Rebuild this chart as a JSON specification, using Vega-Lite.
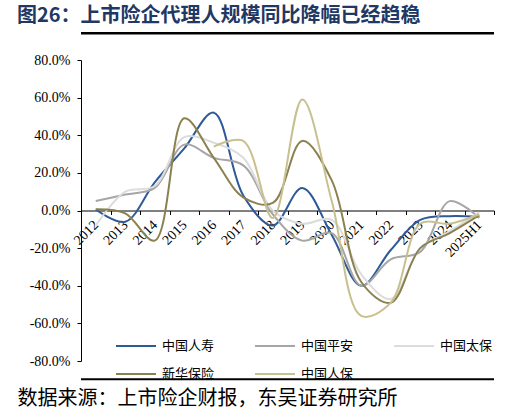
{
  "$schema": "https://vega.github.io/schema/vega-lite/v6.json",
  "width": 413,
  "height": 301,
  "autosize": {"type": "none"},
  "padding": {"left": 81, "top": 60, "right": 15, "bottom": 52},
  "background": "white",
  "config": {
    "view": {"stroke": null},
    "axisY": {
      "labelOverlap": false,
      "domainColor": "#000000",
      "tickColor": "#000000",
      "tickSize": 4,
      "labelFont": "Liberation Serif",
      "labelFontSize": 14,
      "labelColor": "#000000",
      "labelPadding": 7,
      "grid": false
    }
  },
  "title": {
    "text": "图26：上市险企代理人规模同比降幅已经趋稳",
    "anchor": "start",
    "frame": "group",
    "dx": -64,
    "dy": 21,
    "offset": 11,
    "baseline": "alphabetic",
    "font": "Noto Sans CJK SC",
    "fontSize": 20,
    "fontWeight": "bold",
    "color": "#1F3864"
  },
  "datasets": {
    "agents": [
      {"year": "2012", "company": "中国人寿", "value": 0.005},
      {"year": "2013", "company": "中国人寿", "value": -0.06},
      {"year": "2014", "company": "中国人寿", "value": 0.15},
      {"year": "2015", "company": "中国人寿", "value": 0.33},
      {"year": "2016", "company": "中国人寿", "value": 0.52},
      {"year": "2017", "company": "中国人寿", "value": 0.08},
      {"year": "2018", "company": "中国人寿", "value": -0.08},
      {"year": "2019", "company": "中国人寿", "value": 0.12},
      {"year": "2020", "company": "中国人寿", "value": -0.13},
      {"year": "2021", "company": "中国人寿", "value": -0.40},
      {"year": "2022", "company": "中国人寿", "value": -0.21},
      {"year": "2023", "company": "中国人寿", "value": -0.05},
      {"year": "2024", "company": "中国人寿", "value": -0.03},
      {"year": "2025H1", "company": "中国人寿", "value": -0.035},
      {"year": "2012", "company": "中国平安", "value": 0.05},
      {"year": "2013", "company": "中国平安", "value": 0.085},
      {"year": "2014", "company": "中国平安", "value": 0.12},
      {"year": "2015", "company": "中国平安", "value": 0.35},
      {"year": "2016", "company": "中国平安", "value": 0.28},
      {"year": "2017", "company": "中国平安", "value": 0.24},
      {"year": "2018", "company": "中国平安", "value": -0.02},
      {"year": "2019", "company": "中国平安", "value": -0.16},
      {"year": "2020", "company": "中国平安", "value": -0.12},
      {"year": "2021", "company": "中国平安", "value": -0.40},
      {"year": "2022", "company": "中国平安", "value": -0.26},
      {"year": "2023", "company": "中国平安", "value": -0.22},
      {"year": "2024", "company": "中国平安", "value": 0.05},
      {"year": "2025H1", "company": "中国平安", "value": -0.04},
      {"year": "2012", "company": "中国太保", "value": -0.08},
      {"year": "2013", "company": "中国太保", "value": 0.10},
      {"year": "2014", "company": "中国太保", "value": 0.13},
      {"year": "2015", "company": "中国太保", "value": 0.39},
      {"year": "2016", "company": "中国太保", "value": 0.36},
      {"year": "2017", "company": "中国太保", "value": 0.28},
      {"year": "2018", "company": "中国太保", "value": 0.0},
      {"year": "2019", "company": "中国太保", "value": -0.07},
      {"year": "2020", "company": "中国太保", "value": -0.05},
      {"year": "2021", "company": "中国太保", "value": -0.34},
      {"year": "2022", "company": "中国太保", "value": -0.47},
      {"year": "2023", "company": "中国太保", "value": -0.20},
      {"year": "2024", "company": "中国太保", "value": -0.11},
      {"year": "2025H1", "company": "中国太保", "value": -0.01},
      {"year": "2012", "company": "新华保险", "value": 0.007},
      {"year": "2013", "company": "新华保险", "value": -0.015},
      {"year": "2014", "company": "新华保险", "value": -0.16},
      {"year": "2015", "company": "新华保险", "value": 0.49},
      {"year": "2016", "company": "新华保险", "value": 0.28},
      {"year": "2017", "company": "新华保险", "value": 0.07},
      {"year": "2018", "company": "新华保险", "value": 0.04},
      {"year": "2019", "company": "新华保险", "value": 0.37},
      {"year": "2020", "company": "新华保险", "value": 0.16},
      {"year": "2021", "company": "新华保险", "value": -0.38},
      {"year": "2022", "company": "新华保险", "value": -0.49},
      {"year": "2023", "company": "新华保险", "value": -0.20},
      {"year": "2024", "company": "新华保险", "value": -0.12},
      {"year": "2025H1", "company": "新华保险", "value": -0.025},
      {"year": "2016", "company": "中国人保", "value": 0.34},
      {"year": "2017", "company": "中国人保", "value": 0.37},
      {"year": "2018", "company": "中国人保", "value": -0.04},
      {"year": "2019", "company": "中国人保", "value": 0.59},
      {"year": "2020", "company": "中国人保", "value": 0.05},
      {"year": "2021", "company": "中国人保", "value": -0.56},
      {"year": "2022", "company": "中国人保", "value": -0.49},
      {"year": "2023", "company": "中国人保", "value": -0.07},
      {"year": "2024", "company": "中国人保", "value": -0.07},
      {"year": "2025H1", "company": "中国人保", "value": -0.02}
    ]
  },
  "layer": [
    {
      "data": {"name": "agents"},
      "mark": {"type": "line", "interpolate": "catmull-rom", "strokeWidth": 2},
      "encoding": {
        "x": {
          "field": "year",
          "type": "ordinal",
          "sort": null,
          "bandPosition": 0.5,
          "scale": {"type": "band", "paddingInner": 0, "paddingOuter": 0},
          "axis": {
            "title": "数据来源：上市险企财报，东吴证券研究所",
            "titleX": -64,
            "titleY": 194,
            "titleAlign": "left",
            "titleAnchor": "start",
            "titleBaseline": "alphabetic",
            "titleFont": "Noto Sans CJK SC",
            "titleFontSize": 20,
            "titleFontWeight": "normal",
            "titleColor": "#000000",
            "offset": -150.5,
            "domainColor": "#000000",
            "tickColor": "#000000",
            "tickSize": 4,
            "tickBand": "extent",
            "labelAngle": -45,
            "labelAlign": "right",
            "labelBaseline": "middle",
            "labelFont": "Liberation Serif",
            "labelFontSize": 14,
            "labelColor": "#000000",
            "labelPadding": 8,
            "labelOverlap": false,
            "grid": false
          }
        },
        "y": {
          "field": "value",
          "type": "quantitative",
          "scale": {"domain": [-0.8, 0.8], "nice": false, "zero": false},
          "axis": {
            "title": null,
            "values": [-0.8, -0.6, -0.4, -0.2, 0, 0.2, 0.4, 0.6, 0.8],
            "format": ".1%",
            "labelExpr": "replace(datum.label, '−', '-')"
          }
        },
        "color": {
          "field": "company",
          "type": "nominal",
          "scale": {
            "domain": ["中国人寿", "中国平安", "中国太保", "新华保险", "中国人保"],
            "range": ["#2E5A98", "#A6A6A6", "#DCDCDC", "#8B8150", "#C9C08F"]
          },
          "legend": {
            "title": null,
            "orient": "none",
            "legendX": 34,
            "legendY": 265,
            "direction": "horizontal",
            "columns": 3,
            "padding": 0,
            "symbolType": "stroke",
            "symbolSize": 1600,
            "symbolStrokeWidth": 2,
            "labelFont": "Noto Sans CJK SC",
            "labelFontSize": 13,
            "labelColor": "#000000",
            "labelOffset": 5,
            "columnPadding": 36,
            "rowPadding": -22
          }
        }
      }
    },
    {
      "data": {"values": [{"line": "top"}]},
      "mark": {"type": "rule", "strokeWidth": 2.5, "color": "#000000"},
      "encoding": {
        "y": {
          "datum": 0.9424,
          "axis": {
            "title": null,
            "values": [-0.8, -0.6, -0.4, -0.2, 0, 0.2, 0.4, 0.6, 0.8],
            "format": ".1%",
            "labelExpr": "replace(datum.label, '−', '-')"
          }
        }
      }
    },
    {
      "data": {"values": [{"line": "bottom"}]},
      "mark": {"type": "rule", "strokeWidth": 2, "color": "#000000"},
      "encoding": {
        "y": {
          "datum": -0.8976,
          "axis": {
            "title": null,
            "values": [-0.8, -0.6, -0.4, -0.2, 0, 0.2, 0.4, 0.6, 0.8],
            "format": ".1%",
            "labelExpr": "replace(datum.label, '−', '-')"
          }
        }
      }
    }
  ]
}
